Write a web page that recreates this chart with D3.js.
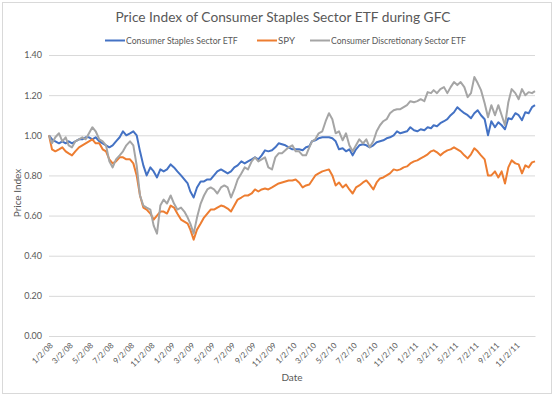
<!DOCTYPE html>
<html><head><meta charset="utf-8">
<script src="https://cdn.jsdelivr.net/npm/d3@7"></script>
<style>body{margin:0;background:#fff}svg{display:block}text{font-family:"Lato","Noto Sans",sans-serif;fill:#595959}</style>
</head><body><svg id="c" width="555" height="397"></svg>
<script>
const title = "Price Index of Consumer Staples Sector ETF during GFC";
const seriesNames = ["Consumer Staples Sector ETF", "SPY", "Consumer Discretionary Sector ETF"];
const colors = ["#4472C4", "#ED7D31", "#A5A5A5"];
const yTicks = [0, 0.2, 0.4, 0.6, 0.8, 1.0, 1.2, 1.4];
const xTickLabels = ["1/2/08","3/2/08","5/2/08","7/2/08","9/2/08","11/2/08","1/2/09","3/2/09","5/2/09","7/2/09","9/2/09","11/2/09","1/2/10","3/2/10","5/2/10","7/2/10","9/2/10","11/2/10","1/2/11","3/2/11","5/2/11","7/2/11","9/2/11","11/2/11"];

const dates = [
"2008-01-02","2008-01-11","2008-01-21","2008-02-01","2008-02-11","2008-02-21","2008-03-01","2008-03-11","2008-03-21","2008-04-01","2008-04-11","2008-04-21","2008-05-01","2008-05-11","2008-05-21","2008-06-01","2008-06-11","2008-06-21","2008-07-01","2008-07-11","2008-07-21","2008-08-01","2008-08-11","2008-08-21","2008-09-01","2008-09-11","2008-09-21","2008-10-01","2008-10-11","2008-10-21","2008-11-01","2008-11-11","2008-11-21","2008-12-01","2008-12-11","2008-12-21",
"2009-01-01","2009-01-11","2009-01-21","2009-02-01","2009-02-11","2009-02-21","2009-03-01","2009-03-11","2009-03-21","2009-04-01","2009-04-11","2009-04-21","2009-05-01","2009-05-11","2009-05-21","2009-06-01","2009-06-11","2009-06-21","2009-07-01","2009-07-11","2009-07-21","2009-08-01","2009-08-11","2009-08-21","2009-09-01","2009-09-11","2009-09-21","2009-10-01","2009-10-11","2009-10-21","2009-11-01","2009-11-11","2009-11-21","2009-12-01","2009-12-11","2009-12-21",
"2010-01-01","2010-01-11","2010-01-21","2010-02-01","2010-02-11","2010-02-21","2010-03-01","2010-03-11","2010-03-21","2010-04-01","2010-04-11","2010-04-21","2010-05-01","2010-05-11","2010-05-21","2010-06-01","2010-06-11","2010-06-21","2010-07-01","2010-07-11","2010-07-21","2010-08-01","2010-08-11","2010-08-21","2010-09-01","2010-09-11","2010-09-21","2010-10-01","2010-10-11","2010-10-21","2010-11-01","2010-11-11","2010-11-21","2010-12-01","2010-12-11","2010-12-21",
"2011-01-01","2011-01-11","2011-01-21","2011-02-01","2011-02-11","2011-02-21","2011-03-01","2011-03-11","2011-03-21","2011-04-01","2011-04-11","2011-04-21","2011-05-01","2011-05-11","2011-05-21","2011-06-01","2011-06-11","2011-06-21","2011-07-01","2011-07-11","2011-07-21","2011-08-01","2011-08-11","2011-08-21","2011-09-01","2011-09-11","2011-09-21","2011-10-01","2011-10-11","2011-10-21","2011-11-01","2011-11-11","2011-11-21","2011-12-01","2011-12-11","2011-12-21","2011-12-30"];

const staples = [
1.00,0.98,0.97, 0.96,0.97,0.96, 0.97,0.96,0.97, 0.98,0.98,0.99, 0.99,0.98,0.99, 0.97,0.96,0.95, 0.94,0.95,0.97, 0.99,1.02,1.00, 1.01,1.02,1.00, 0.92,0.85,0.80, 0.84,0.82,0.79, 0.83,0.82,0.83,
0.855,0.84,0.82, 0.80,0.78,0.76, 0.72,0.69,0.74, 0.77,0.77,0.78, 0.78,0.80,0.82, 0.83,0.82,0.81, 0.82,0.84,0.85, 0.87,0.86,0.87, 0.88,0.89,0.88, 0.90,0.925,0.92, 0.925,0.94,0.96, 0.955,0.95,0.94,
0.93,0.93,0.93, 0.925,0.94,0.945, 0.97,0.975,0.985, 0.99,0.99,0.99, 0.985,0.97,0.93, 0.935,0.92,0.93, 0.90,0.93,0.95, 0.955,0.95,0.94, 0.95,0.965,0.97, 0.975,0.985,0.99, 1.00,1.02,1.01, 1.015,1.02,1.04,
1.025,1.02,1.03, 1.025,1.04,1.035, 1.05,1.045,1.06, 1.07,1.08,1.10, 1.115,1.14,1.125, 1.11,1.10,1.085, 1.11,1.125,1.10, 1.08,1.00,1.07, 1.04,1.065,1.05, 1.03,1.085,1.08, 1.11,1.10,1.075, 1.115,1.11,1.14, 1.15];

const spy = [
1.00,0.93,0.92, 0.93,0.94,0.92, 0.91,0.90,0.92, 0.94,0.95,0.96, 0.97,0.98,0.96, 0.96,0.93,0.92, 0.88,0.86,0.87, 0.89,0.89,0.88, 0.88,0.86,0.80, 0.70,0.64,0.63, 0.61,0.58,0.60, 0.62,0.62,0.61,
0.65,0.64,0.61, 0.58,0.57,0.56, 0.53,0.48,0.53, 0.56,0.59,0.61, 0.63,0.63,0.64, 0.65,0.645,0.635, 0.62,0.65,0.68, 0.69,0.70,0.70, 0.71,0.73,0.72, 0.73,0.735,0.73, 0.74,0.75,0.76, 0.765,0.77,0.775,
0.775,0.78,0.765, 0.74,0.75,0.755, 0.775,0.80,0.81, 0.82,0.825,0.83, 0.80,0.75,0.765, 0.74,0.755,0.73, 0.71,0.74,0.75, 0.765,0.775,0.755, 0.73,0.765,0.785, 0.79,0.80,0.81, 0.83,0.825,0.83, 0.84,0.845,0.86,
0.87,0.875,0.885, 0.895,0.905,0.92, 0.925,0.915,0.90, 0.915,0.925,0.93, 0.94,0.93,0.92, 0.90,0.885,0.905, 0.935,0.92,0.90, 0.88,0.80,0.80, 0.82,0.79,0.82, 0.76,0.84,0.875, 0.86,0.855,0.81, 0.85,0.84,0.865, 0.87];

const discretionary = [
1.00,0.96,0.99, 1.01,0.97,0.99, 0.95,0.94,0.97, 0.98,0.99,0.98, 1.01,1.04,1.02, 0.98,0.97,0.95, 0.87,0.84,0.88, 0.90,0.92,0.95, 0.97,0.95,0.85, 0.70,0.65,0.64, 0.63,0.55,0.51, 0.65,0.68,0.66,
0.70,0.66,0.63, 0.64,0.62,0.59, 0.56,0.51,0.59, 0.66,0.70,0.73, 0.74,0.73,0.71, 0.74,0.75,0.74, 0.69,0.73,0.78, 0.81,0.84,0.83, 0.87,0.89,0.87, 0.88,0.89,0.84, 0.83,0.89,0.91, 0.91,0.925,0.94,
0.95,0.92,0.92, 0.90,0.90,0.94, 0.97,0.98,1.01, 1.02,1.07,1.11, 1.08,1.01,1.02, 0.975,1.01,0.95, 0.92,0.95,0.98, 0.96,0.98,0.94, 0.97,1.02,1.05, 1.07,1.08,1.11, 1.125,1.13,1.13, 1.14,1.15,1.17,
1.165,1.17,1.18, 1.17,1.215,1.21, 1.225,1.21,1.23, 1.24,1.21,1.24, 1.265,1.25,1.265, 1.24,1.19,1.21, 1.29,1.26,1.225, 1.16,1.09,1.15, 1.10,1.15,1.10, 1.05,1.165,1.23, 1.21,1.18,1.23, 1.20,1.215,1.21, 1.22];

const parseISO = d3.timeParse("%Y-%m-%d");
const parseTick = d3.timeParse("%-m/%-d/%y");
const dd = dates.map(parseISO);
const series = [staples, spy, discretionary];

const svg = d3.select("#c");
const m = {left: 49, right: 535, top: 55, bottom: 336};

svg.append("rect").attr("x", 2.5).attr("y", 2.5).attr("width", 549).attr("height", 391)
  .attr("fill", "#fff").attr("stroke", "#d9d9d9").attr("stroke-width", 1);

const x = d3.scaleTime().domain([dd[0], dd[dd.length - 1]]).range([m.left, m.right]);
const y = d3.scaleLinear().domain([0, 1.4]).range([m.bottom, m.top]);

function fit(sel, target) {
  const w = sel.node().getComputedTextLength();
  const fs = parseFloat(sel.attr("font-size"));
  sel.attr("font-size", (fs * target / w).toFixed(2));
}

// gridlines + y axis
const yAxis = d3.axisLeft(y).tickValues(yTicks).tickFormat(d3.format(".2f"))
  .tickSize(-(m.right - m.left)).tickPadding(7);
const gy = svg.append("g").attr("transform", `translate(${m.left},0)`).call(yAxis);
gy.select(".domain").remove();
gy.selectAll(".tick line").attr("stroke", "#d9d9d9").attr("stroke-width", 1);
gy.selectAll(".tick text").attr("font-size", 9).attr("fill", "#595959")
  .attr("font-family", "Lato, 'Noto Sans', sans-serif");

// x axis
const xTickDates = xTickLabels.map(parseTick);
const xAxis = d3.axisBottom(x).tickValues(xTickDates).tickSize(0)
  .tickFormat((d, i) => xTickLabels[i]);
const gx = svg.append("g").attr("transform", `translate(0,${m.bottom})`).call(xAxis);
gx.select(".domain").attr("stroke", "#d9d9d9");
gx.selectAll(".tick text").attr("font-size", 8).attr("fill", "#666")
  .attr("font-family", "Lato, 'Noto Sans', sans-serif")
  .attr("text-anchor", "end").attr("dy", null).attr("y", 0)
  .attr("transform", "translate(4,10) rotate(-45)");

// lines
const line = d3.line().x((d, i) => x(dd[i])).y(d => y(d));
series.forEach((s, k) => {
  svg.append("path").datum(s).attr("fill", "none").attr("stroke", colors[k])
    .attr("stroke-width", 2).attr("stroke-linejoin", "round").attr("d", line);
});

// title
const t = svg.append("text").attr("x", 283).attr("y", 22).attr("text-anchor", "middle")
  .attr("font-size", 14).text(title);
fit(t, 335);

// legend
const legX = [105, 257, 310];
const legW = [112, 17, 135];
seriesNames.forEach((n, k) => {
  svg.append("line").attr("x1", legX[k]).attr("x2", legX[k] + 20).attr("y1", 40.5).attr("y2", 40.5)
    .attr("stroke", colors[k]).attr("stroke-width", 2);
  const lt = svg.append("text").attr("x", legX[k] + 21).attr("y", 43.5).attr("font-size", 9).text(n);
  fit(lt, legW[k]);
});

// axis titles
svg.append("text").attr("x", 292).attr("y", 381).attr("text-anchor", "middle")
  .attr("font-size", 10).text("Date");
svg.append("text").attr("transform", "translate(21,193) rotate(-90)").attr("text-anchor", "middle")
  .attr("font-size", 10).text("Price Index");
</script></body></html>
